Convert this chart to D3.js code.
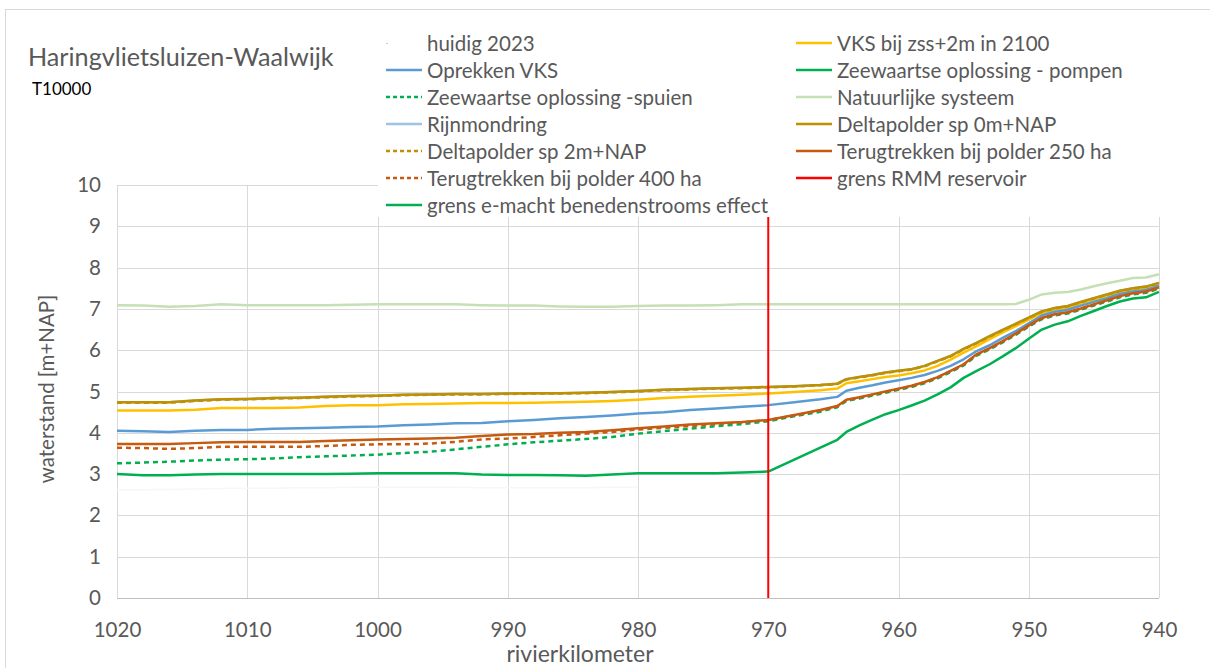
<!DOCTYPE html>
<html><head><meta charset="utf-8">
<script src="https://cdn.jsdelivr.net/npm/d3@7"></script>
<style>
body{margin:0;background:#fff;}
text{font-family:Lato,"Noto Sans",sans-serif;}
</style>
</head><body>
<svg id="chart" width="1210" height="668"></svg>
<script>
// ---------- data ----------
const title = "Haringvlietsluizen-Waalwijk";
const subtitle = "T10000";
const xTitle = "rivierkilometer";
const yTitle = "waterstand [m+NAP]";
const xTicks = [1020,1010,1000,990,980,970,960,950,940];
const yTicks = [0,1,2,3,4,5,6,7,8,9,10];
const rmmKm = 970;

const km = [1020,1018,1016,1014,1012,1010,1008,1006,1004,1002,1000,998,996,994,992,990,988,986,984,982,980,978,976,974,972,970,968,966,
  964.7,964,963,962,961,960,959,958,957,956,955,954,953,952,951,950,949,948,947,946,945,944,943,942,941,940];

const huidig2023 = [2.62,2.62,2.63,2.64,2.65,2.66,2.66,2.67,2.67,2.68,2.68,2.68,2.68,2.68,2.67,2.67,2.67,2.67,2.67,2.68,2.68,
  null,null,null,null,null,null,null,null,null,null,null,null,null,null,null,null,null,null,null,null,null,null,null,null,null,null,null,null,null,null,null,null,null];
const vks2100 = [4.54,4.54,4.54,4.56,4.60,4.60,4.60,4.61,4.65,4.67,4.67,4.69,4.70,4.71,4.72,4.72,4.73,4.74,4.75,4.77,4.80,4.84,4.87,4.90,4.92,4.95,4.99,5.03,
  5.07,5.20,5.25,5.30,5.35,5.39,5.44,5.51,5.62,5.77,5.94,6.10,6.27,6.43,6.58,6.74,6.90,6.98,7.03,7.13,7.22,7.31,7.40,7.46,7.51,7.60];
const oprekkenVks = [4.05,4.04,4.02,4.05,4.07,4.07,4.10,4.11,4.12,4.14,4.15,4.18,4.20,4.23,4.24,4.28,4.31,4.35,4.38,4.42,4.47,4.50,4.55,4.59,4.63,4.67,4.74,4.81,
  4.87,5.02,5.09,5.15,5.22,5.27,5.33,5.40,5.50,5.62,5.78,5.98,6.12,6.30,6.46,6.65,6.84,6.93,6.98,7.08,7.17,7.26,7.36,7.42,7.46,7.56];
const pompen = [3.00,2.97,2.97,2.99,3.00,3.00,3.00,3.00,3.00,3.01,3.02,3.02,3.02,3.02,2.99,2.98,2.98,2.97,2.96,2.99,3.02,3.02,3.02,3.02,3.04,3.06,3.35,3.64,
  3.83,4.02,4.18,4.32,4.45,4.55,4.66,4.78,4.93,5.10,5.33,5.50,5.66,5.85,6.05,6.28,6.50,6.62,6.70,6.83,6.95,7.07,7.18,7.25,7.28,7.41];
const spuien = [3.26,3.28,3.30,3.33,3.35,3.36,3.38,3.41,3.43,3.45,3.47,3.51,3.54,3.60,3.66,3.72,3.77,3.81,3.85,3.90,3.98,4.04,4.10,4.16,4.21,4.28,4.40,4.51,
  4.62,4.77,4.83,4.90,4.97,5.04,5.11,5.20,5.32,5.47,5.63,5.87,6.02,6.19,6.37,6.57,6.75,6.84,6.89,6.98,7.08,7.18,7.28,7.35,7.39,7.49];
const natuurlijk = [7.09,7.08,7.05,7.07,7.11,7.09,7.09,7.09,7.09,7.10,7.11,7.11,7.11,7.11,7.09,7.08,7.08,7.06,7.05,7.05,7.07,7.08,7.08,7.09,7.11,7.11,7.11,7.11,
  7.11,7.11,7.11,7.11,7.11,7.11,7.11,7.11,7.11,7.11,7.11,7.11,7.11,7.11,7.12,7.22,7.35,7.39,7.41,7.47,7.55,7.62,7.68,7.75,7.76,7.84];
const rijnmondring = [4.74,4.74,4.74,4.78,4.81,4.82,4.84,4.85,4.87,4.89,4.90,4.92,4.93,4.94,4.94,4.95,4.96,4.96,4.97,4.99,5.01,5.04,5.06,5.08,5.09,5.11,5.13,5.16,
  5.19,5.30,5.35,5.40,5.46,5.50,5.54,5.62,5.74,5.86,6.03,6.18,6.34,6.49,6.64,6.79,6.94,7.02,7.07,7.17,7.26,7.35,7.44,7.50,7.54,7.63];
const deltapolder0 = [4.74,4.74,4.74,4.78,4.81,4.82,4.84,4.85,4.87,4.89,4.90,4.92,4.93,4.94,4.94,4.95,4.96,4.96,4.97,4.99,5.01,5.04,5.06,5.08,5.09,5.11,5.13,5.16,
  5.19,5.30,5.35,5.40,5.46,5.50,5.54,5.62,5.74,5.86,6.03,6.18,6.34,6.49,6.64,6.79,6.94,7.02,7.07,7.17,7.26,7.35,7.44,7.50,7.54,7.63];
const deltapolder2 = [4.73,4.73,4.73,4.77,4.80,4.81,4.83,4.84,4.86,4.88,4.89,4.91,4.92,4.93,4.93,4.94,4.95,4.95,4.96,4.98,5.00,5.03,5.05,5.07,5.08,5.10,5.12,5.15,
  5.18,5.29,5.34,5.39,5.45,5.49,5.53,5.61,5.73,5.85,6.02,6.17,6.33,6.48,6.63,6.78,6.93,7.01,7.06,7.16,7.25,7.34,7.43,7.49,7.53,7.62];
const terug250 = [3.73,3.73,3.73,3.75,3.77,3.78,3.78,3.78,3.80,3.82,3.84,3.85,3.86,3.88,3.92,3.96,3.97,4.00,4.02,4.06,4.11,4.15,4.20,4.23,4.26,4.31,4.43,4.55,
  4.65,4.80,4.86,4.93,5.00,5.07,5.14,5.23,5.35,5.50,5.66,5.90,6.05,6.22,6.40,6.60,6.78,6.87,6.92,7.01,7.11,7.21,7.31,7.38,7.42,7.52];
const terug400 = [3.64,3.63,3.61,3.63,3.66,3.66,3.66,3.66,3.68,3.71,3.72,3.72,3.74,3.78,3.84,3.86,3.90,3.94,3.98,4.02,4.08,4.12,4.16,4.21,4.25,4.31,4.42,4.54,
  4.64,4.79,4.85,4.92,4.99,5.06,5.13,5.22,5.34,5.49,5.65,5.89,6.04,6.21,6.39,6.59,6.77,6.86,6.91,7.00,7.10,7.20,7.30,7.37,7.41,7.51];

const seriesNames = ["huidig 2023","VKS bij zss+2m in 2100","Oprekken VKS","Zeewaartse oplossing - pompen",
  "Zeewaartse oplossing -spuien","Natuurlijke systeem","Rijnmondring","Deltapolder sp 0m+NAP",
  "Deltapolder sp 2m+NAP","Terugtrekken bij polder 250 ha","Terugtrekken bij polder 400 ha",
  "grens RMM reservoir","grens e-macht benedenstrooms effect"];
const seriesValues = [huidig2023,vks2100,oprekkenVks,pompen,spuien,natuurlijk,rijnmondring,deltapolder0,deltapolder2,terug250,terug400,null,null];
const seriesColors = ["#f7f7f7","#ffc000","#5b9bd5","#00b050","#00b050","#c5e0b4","#9dc3e6","#bf9000","#bf9000","#c55a11","#c55a11","#ff0000","#00b050"];
const seriesDashed = [false,false,false,false,true,false,false,false,true,false,true,false,false];
// legend order (left column then right column, row by row)
const legendLeft = [0,2,4,6,8,10,12];
const legendRight = [1,3,5,7,9,11];

// ---------- drawing ----------
const svg = d3.select("#chart");
const x = d3.scaleLinear().domain([1020,940]).range([117,1159]);
const y = d3.scaleLinear().domain([0,10]).range([598,185]);
const grey = "#595959";

// outer border
svg.append("rect").attr("x",5.5).attr("y",9.5).attr("width",1220).attr("height",680)
  .attr("fill","#fff").attr("stroke","#d9d9d9").attr("stroke-width",1);

// title
svg.append("text").attr("x",28).attr("y",66).attr("fill",grey).attr("font-size",25.2).text(title);
svg.append("text").attr("x",32).attr("y",95).attr("fill","#000").attr("font-size",17).text(subtitle);

// gridlines
const grid = svg.append("g");
grid.selectAll("line.h").data(yTicks.filter(d=>d>0)).join("line")
  .attr("x1",x(1020)).attr("x2",x(940)).attr("y1",d=>Math.round(y(d))+0.5).attr("y2",d=>Math.round(y(d))+0.5)
  .attr("stroke","#d9d9d9").attr("stroke-width",1);
grid.selectAll("line.v").data(xTicks).join("line")
  .attr("x1",d=>Math.round(x(d))+0.5).attr("x2",d=>Math.round(x(d))+0.5).attr("y1",y(10)).attr("y2",y(0))
  .attr("stroke","#d9d9d9").attr("stroke-width",1);
svg.append("line").attr("x1",x(1020)).attr("x2",x(940)).attr("y1",Math.round(y(0))+0.5).attr("y2",Math.round(y(0))+0.5)
  .attr("stroke","#bfbfbf").attr("stroke-width",1);

// axes via d3 axis
const xAxis = svg.append("g").attr("transform",`translate(0,${y(0)})`)
  .call(d3.axisBottom(x).tickValues(xTicks).tickSize(0).tickPadding(24).tickFormat(d3.format("d")));
xAxis.select(".domain").remove();
xAxis.selectAll("text").attr("fill",grey).attr("font-size",20.5).attr("font-family","Lato");
const yAxis = svg.append("g").attr("transform",`translate(${x(1020)},0)`)
  .call(d3.axisLeft(y).tickValues(yTicks).tickSize(0).tickPadding(16).tickFormat(d3.format("d")));
yAxis.select(".domain").remove();
yAxis.selectAll("text").attr("fill",grey).attr("font-size",20.5).attr("font-family","Lato");

svg.append("text").attr("x",580).attr("y",662).attr("text-anchor","middle").attr("fill",grey).attr("font-size",23).text(xTitle);
svg.append("text").attr("transform","translate(54,389) rotate(-90)").attr("text-anchor","middle").attr("fill",grey).attr("font-size",20.5).text(yTitle);

// series lines
const line = d3.line().defined(d=>d[1]!=null).x(d=>x(d[0])).y(d=>y(d[1]));
const plot = svg.append("g");
seriesValues.forEach((vals,i)=>{
  if(vals){
    const pts = km.map((k,j)=>[k,vals[j]]);
    plot.append("path").datum(pts).attr("d",line).attr("fill","none")
      .attr("stroke",seriesColors[i]).attr("stroke-width", i===0?1.5:2.5)
      .attr("stroke-dasharray",seriesDashed[i]?"5,4":null)
      .attr("stroke-linejoin","round");
  } else if(i===11){
    plot.append("line").attr("x1",x(rmmKm)).attr("x2",x(rmmKm)).attr("y1",y(0)).attr("y2",y(10))
      .attr("stroke",seriesColors[i]).attr("stroke-width",2);
  }
});

// legend (white box overlapping top of plot)
svg.append("rect").attr("x",378).attr("y",28).attr("width",790).attr("height",189).attr("fill","#fff");
const leg = svg.append("g");
function legendItem(idx,row,col){
  const mx = col===0?386:796, tx = col===0?427:837, cy = 43+row*27;
  if(idx===0){
    leg.append("rect").attr("x",mx).attr("y",cy).attr("width",2).attr("height",1).attr("fill","#d0d0d0");
  } else {
    leg.append("line").attr("x1",mx).attr("x2",mx+36).attr("y1",cy).attr("y2",cy)
      .attr("stroke",seriesColors[idx]).attr("stroke-width",2.5)
      .attr("stroke-dasharray",seriesDashed[idx]?"4,3":null);
  }
  leg.append("text").attr("x",tx).attr("y",cy+7.5).attr("fill",grey).attr("font-size",20.5).text(seriesNames[idx]);
}
legendLeft.forEach((idx,r)=>legendItem(idx,r,0));
legendRight.forEach((idx,r)=>legendItem(idx,r,1));
</script>
</body></html>
